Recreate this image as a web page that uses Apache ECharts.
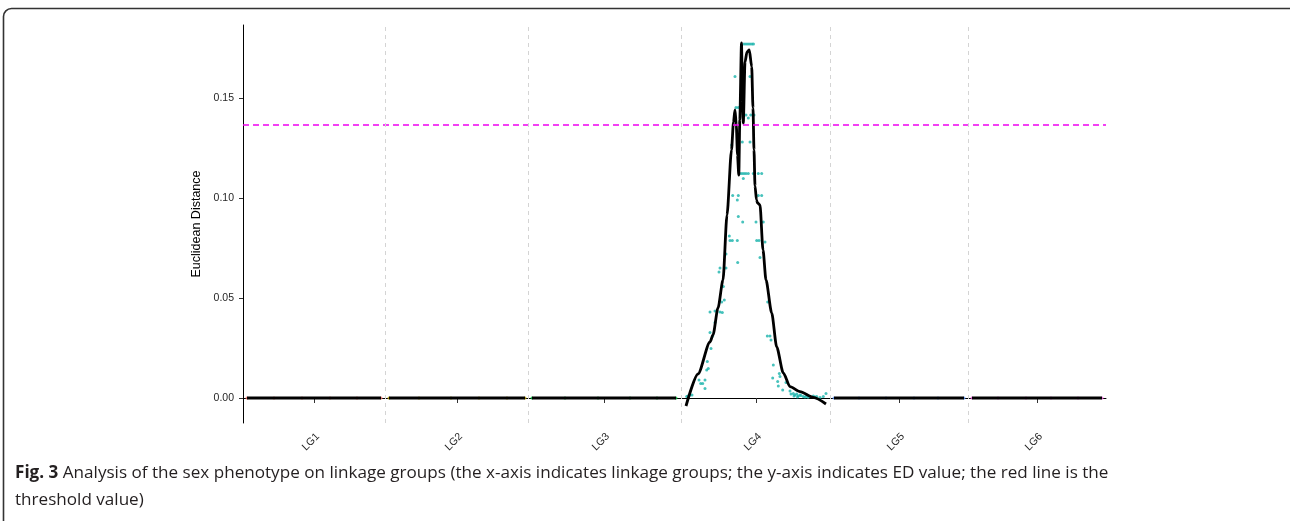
<!DOCTYPE html>
<html><head><meta charset="utf-8">
<script src="https://cdn.jsdelivr.net/npm/echarts@6/dist/echarts.min.js"></script>
<style>html,body{margin:0;padding:0;background:#fff}#c{width:1290px;height:521px}</style>
</head><body><div id="c"></div>
<script>
// ---- data ----
const groups = ['LG1', 'LG2', 'LG3', 'LG4', 'LG5', 'LG6'];
const groupStart = [4, 146, 289, 443, 591, 729];      // cumulative start position of each linkage group
const groupLength = [134, 136, 144, 140, 130, 130];   // length of each linkage group
const groupColors = ['#F8766D', '#B79F00', '#00BA38', '#19B3AB', '#619CFF', '#F564E3'];
const threshold = 0.1365;
const yTicks = [0, 0.05, 0.10, 0.15];

// flat groups (ED ~ 0 everywhere)
const lg1Pos = [0, 27, 55, 83, 110, 134];
const lg1ED  = [0, 0, 0, 0, 0, 0];
const lg2Pos = [0, 30, 62, 90, 118, 136];
const lg2ED  = [0, 0, 0, 0, 0, 0];
const lg3Pos = [0, 33, 66, 98, 125, 144];
const lg3ED  = [0, 0, 0, 0, 0, 0];
const lg5Pos = [0, 25, 52, 80, 104, 130];
const lg5ED  = [0, 0, 0, 0, 0, 0];
const lg6Pos = [0, 26, 54, 79, 106, 130];
const lg6ED  = [0, 0, 0, 0, 0, 0];

// LG4 fitted curve
const lg4CurvePos = [0, 12, 24, 27, 32, 37, 41, 45.5, 47.5, 49, 50.3, 51.5, 52.8, 53.8, 55.5, 56.5, 57.3, 59, 61, 63.3, 65.7, 67, 68, 69, 70.5, 71.5, 74, 77, 80, 85.7, 90.7, 97.3, 104, 114, 127.3, 140];
const lg4CurveED  = [-0.004, 0.012, 0.028, 0.0315, 0.045, 0.059, 0.0915, 0.124, 0.138, 0.144, 0.1365, 0.1215, 0.1115, 0.139, 0.1775, 0.149, 0.1375, 0.168, 0.173, 0.174, 0.1657, 0.145, 0.124, 0.106, 0.099, 0.0975, 0.0965, 0.074, 0.059, 0.0425, 0.0255, 0.0125, 0.0057, 0.0032, 0.0003, -0.003];

// LG4 markers
const lg4PointPos = [58, 60, 62, 64, 66, 67.5, 49, 64, 50, 52.3, 60, 62.3, 64.7, 68, 45.7, 56.3, 64,
  54, 56, 58, 60, 62.3, 67.3, 72.3, 75.7, 57.3, 46.7, 52.3, 72.3, 75.7, 51.3, 52.3, 56.7, 70, 77.3,
  43.3, 44, 46.3, 51.3, 70.7, 73, 79, 40, 51.7, 74, 34, 33, 40, 37.3, 35.7, 38.3, 24, 29, 34, 36.3,
  29, 24, 26.7, 25, 21.3, 20.7, 22.3, 13, 14.7, 16.7, 19, 19, 0.7, 2, 4, 6,
  81.7, 81.3, 84, 85, 87.3, 86.7, 93.3, 94, 91.7, 92.3, 100, 96.7,
  104, 105, 107.3, 108, 109, 110.7, 111.5, 112.3, 114, 115, 117.3, 119, 120.7, 122, 124, 127.3, 129, 130.7, 134, 137.3, 140];
const lg4PointED = [0.177, 0.177, 0.177, 0.177, 0.177, 0.177, 0.1607, 0.1607, 0.1453, 0.1453, 0.1415, 0.140, 0.1415, 0.1415, 0.1265, 0.128, 0.128,
  0.1123, 0.1123, 0.1123, 0.1123, 0.1123, 0.1123, 0.1123, 0.1123, 0.1098, 0.1012, 0.1012, 0.1012, 0.1012, 0.099, 0.0907, 0.088, 0.088, 0.088,
  0.081, 0.0787, 0.0787, 0.0787, 0.0787, 0.0787, 0.078, 0.072, 0.0677, 0.0703, 0.065, 0.063, 0.065, 0.0557, 0.048, 0.049, 0.043, 0.0435, 0.043, 0.0427,
  0.0377, 0.0327, 0.031, 0.0248, 0.0182, 0.014, 0.0148, 0.009, 0.0073, 0.0073, 0.009, 0.0048, 0.0007, 0.001, 0.0015, 0.0015,
  0.048, 0.031, 0.031, 0.029, 0.0165, 0.010, 0.0123, 0.0107, 0.0082, 0.006, 0.0077, 0.004,
  0.0035, 0.002, 0.0023, 0.001, 0.0015, 0.002, 0.0005, 0.001, 0.0015, 0.0012, 0.0007, 0.0005, 0.001, 0.0004, 0.0007, 0.001, 0.0005, 0.0007, 0.0003, 0.0007, 0.0023];

// ---- build ----
const posArr = [lg1Pos, lg2Pos, lg3Pos, null, lg5Pos, lg6Pos];
const edArr = [lg1ED, lg2ED, lg3ED, null, lg5ED, lg6ED];
function pairs(pos, ed, g) { return pos.map((p, i) => [groupStart[g] + p, ed[i]]); }

const centers = groups.map((_, i) => groupStart[i] + groupLength[i] / 2);
const separators = groups.slice(0, -1).map((_, i) => (groupStart[i] + groupLength[i] + groupStart[i + 1]) / 2);
const xMax = groupStart[5] + groupLength[5] + 4;

const series = [];
// group separators
series.push({
  type: 'line', data: [], silent: true, z: 1,
  markLine: {
    silent: true, symbol: ['none', 'none'], animation: false, label: { show: false },
    data: separators.map(v => ({ xAxis: v, lineStyle: { color: '#d4d4d4', type: [4, 4], width: 1 } }))
  }
});
// threshold line
series.push({
  type: 'line', data: [[0, threshold], [xMax, threshold]], showSymbol: false, symbol: 'none', silent: true, z: 4,
  lineStyle: { color: '#f000f0', type: [6, 4], width: 1.4 }
});
groups.forEach((g, i) => {
  const pts = i === 3 ? pairs(lg4PointPos, lg4PointED, 3) : pairs(posArr[i], edArr[i], i);
  series.push({
    type: 'scatter', name: g, data: pts, symbol: 'circle', symbolSize: 3,
    itemStyle: { color: groupColors[i] }, z: 2, silent: true
  });
});
groups.forEach((g, i) => {
  const pts = i === 3 ? pairs(lg4CurvePos, lg4CurveED, 3) : pairs(posArr[i], edArr[i], i);
  series.push({
    type: 'line', data: pts, showSymbol: false, symbol: 'none', smooth: i === 3 ? 0.25 : false,
    smoothMonotone: 'x',
    lineStyle: { color: '#000', width: 2.8 }, z: 3, silent: true
  });
});

const chart = echarts.init(document.getElementById('c'), null, { renderer: 'canvas' });
chart.setOption({
  animation: false,
  backgroundColor: '#fff',
  grid: { left: 243, right: 184, top: 25, bottom: 98, containLabel: false },
  xAxis: {
    type: 'value', min: 0, max: xMax,
    axisLine: { show: true, lineStyle: { color: '#000', width: 1 } },
    axisTick: { show: true, customValues: centers, length: 5, lineStyle: { color: '#333' } },
    axisLabel: {
      customValues: centers, rotate: 45, margin: 8, fontSize: 10.5, color: '#262626',
      fontFamily: 'Liberation Sans', verticalAlign: 'top',
      formatter: v => { let k = 0; centers.forEach((c, j) => { if (Math.abs(c - v) < Math.abs(centers[k] - v)) k = j; }); return groups[k]; }
    },
    splitLine: { show: false }
  },
  yAxis: {
    type: 'value', min: -0.0125, max: 0.1865,
    name: 'Euclidean Distance', nameLocation: 'middle', nameGap: 29,
    nameTextStyle: { fontSize: 12.5, color: '#000', fontFamily: 'Liberation Sans' },
    axisLine: { show: true, lineStyle: { color: '#000', width: 1 } },
    axisTick: { show: true, customValues: yTicks, length: 4, lineStyle: { color: '#333' } },
    axisLabel: {
      customValues: yTicks, margin: 9, fontSize: 10.5, color: '#262626', fontFamily: 'Liberation Sans',
      formatter: v => v.toFixed(2)
    },
    splitLine: { show: false }
  },
  series: series,
  graphic: [
    {
      type: 'rect', silent: true,
      shape: { x: 3.5, y: 8.5, width: 1295, height: 600, r: 8 },
      style: { fill: null, stroke: '#333', lineWidth: 1.6 }
    },
    {
      type: 'text', left: 15, top: 460, silent: true,
      style: {
        text: '{b|Fig. 3} Analysis of the sex phenotype on linkage groups (the x-axis indicates linkage groups; the y-axis indicates ED value; the red line is the\nthreshold value)',
        fontFamily: 'Open Sans', fontSize: 17.1, fill: '#231f20', lineHeight: 27,
        rich: { b: { fontWeight: 'bold', fontFamily: 'Open Sans', fontSize: 17.1, fill: '#231f20', lineHeight: 27 } }
      }
    }
  ]
});
</script>
</body></html>
